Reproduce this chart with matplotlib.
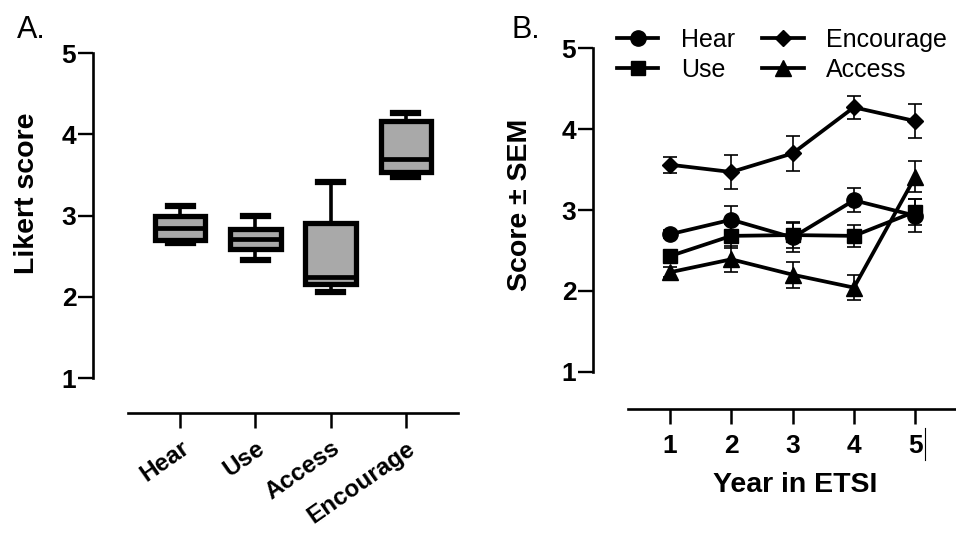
import matplotlib
matplotlib.use("Agg")
import matplotlib.pyplot as plt
from matplotlib.lines import Line2D

plt.rcParams['font.family'] = ['Liberation Sans', 'DejaVu Sans']

# panel A: box summaries
categories = ['Hear', 'Use', 'Access', 'Encourage']
box_whislo = [2.66, 2.45, 2.06, 3.48]
box_q1 = [2.70, 2.59, 2.16, 3.54]
box_med = [2.85, 2.71, 2.25, 3.70]
box_q3 = [3.00, 2.84, 2.91, 4.17]
box_whishi = [3.12, 3.00, 3.42, 4.27]

# panel B: mean score and SEM per year
years = [1, 2, 3, 4, 5]
hear_mean = [2.70, 2.88, 2.66, 3.12, 2.93]
hear_sem = [0.05, 0.17, 0.18, 0.15, 0.20]
use_mean = [2.43, 2.68, 2.69, 2.68, 2.98]
use_sem = [0.06, 0.15, 0.16, 0.14, 0.16]
enc_mean = [3.56, 3.47, 3.70, 4.27, 4.10]
enc_sem = [0.10, 0.21, 0.22, 0.14, 0.21]
acc_mean = [2.23, 2.39, 2.20, 2.04, 3.41]
acc_sem = [0.06, 0.16, 0.16, 0.15, 0.19]

W, H = 956, 538
fig = plt.figure(figsize=(W / 100, H / 100), dpi=100)
fig.patch.set_facecolor('white')


def px_axes(left, top, right, bottom):
    return fig.add_axes([left / W, 1 - bottom / H, (right - left) / W, (bottom - top) / H])


def style(ax, x_out, y_out):
    for s in ('top', 'right'):
        ax.spines[s].set_visible(False)
    ax.spines['left'].set_position(('outward', y_out))
    ax.spines['bottom'].set_position(('outward', x_out))
    ax.spines['left'].set_linewidth(1.9)
    ax.spines['bottom'].set_linewidth(1.9)
    ax.spines['left'].set_bounds(1, 5)
    ax.set_ylim(1, 5)
    ax.set_yticks([1, 2, 3, 4, 5])
    ax.tick_params(axis='y', length=10.5, width=1.7, labelsize=19, pad=1.5)
    ax.tick_params(axis='x', length=11, width=1.8)
    for t in ax.get_yticklabels():
        t.set_fontweight('bold')
    ax.patch.set_alpha(0)


# ---- panel A ----
axA = px_axes(128, 53.3, 458, 378)
stats = []
for i, c in enumerate(categories):
    stats.append(dict(label=c, whislo=box_whislo[i], q1=box_q1[i], med=box_med[i],
                      q3=box_q3[i], whishi=box_whishi[i]))
axA.bxp(stats, positions=[1, 2, 3, 4], widths=0.67, capwidths=0.33,
        patch_artist=True, showfliers=False,
        boxprops=dict(facecolor='#a9a9a9', edgecolor='black', linewidth=3.8),
        medianprops=dict(color='black', linewidth=3.4),
        whiskerprops=dict(color='black', linewidth=2.6),
        capprops=dict(color='black', linewidth=4.5))
axA.set_xlim(1 - 52 / 75, 4 + 52 / 75)
style(axA, 25.2, 25.2)
axA.set_xticks([1, 2, 3, 4])
axA.set_xticklabels(categories, rotation=35, ha='right', va='top',
                    rotation_mode='anchor', fontweight='bold', fontsize=17.5)
axA.tick_params(axis='x', pad=6)
axA.set_ylabel('Likert score', fontsize=20.5, fontweight='bold', va='center')
axA.yaxis.set_label_coords(-0.306, 0.57)

# ---- panel B ----
axB = px_axes(628, 48.3, 956, 371.7)
series = [
    ('Hear', hear_mean, hear_sem, 'o', 11),
    ('Use', use_mean, use_sem, 's', 10.5),
    ('Encourage', enc_mean, enc_sem, 'D', 8),
    ('Access', acc_mean, acc_sem, '^', 11),
]
handles = []
for name, m, e, mk, ms in series:
    axB.errorbar(years, m, yerr=e, fmt='none', ecolor='black', elinewidth=1.2,
                 capsize=5, capthick=1.2, zorder=2)
    ln, = axB.plot(years, m, color='black', lw=2.7, marker=mk, markersize=ms,
                   markerfacecolor='black', markeredgecolor='black', label=name, zorder=3)
    handles.append(ln)
axB.set_xlim(1 - 42 / 61.3, 1 + (956 - 670) / 61.3)
style(axB, 27, 25.2)
axB.set_xticks(years)
axB.tick_params(axis='x', labelsize=19, pad=7)
for t in axB.get_xticklabels():
    t.set_fontweight('bold')
axB.set_xlabel('Year in ETSI', fontsize=20.5, fontweight='bold')
axB.xaxis.set_label_coords(0.509, -0.31)
axB.set_ylabel('Score \u00b1 SEM', fontsize=20.5, fontweight='bold', va='center')
axB.yaxis.set_label_coords(-0.329, 0.515)

fig.legend(handles=handles, ncol=2, loc='upper left',
           bbox_to_anchor=(617 / W, 1 - 28 / H), frameon=False, fontsize=18,
           handlelength=1.65, handletextpad=0.9, columnspacing=1.1,
           labelspacing=0.25, borderpad=0, borderaxespad=0)

# stray cursor mark next to the last year label
fig.add_artist(Line2D([925 / W, 925 / W], [1 - 428 / H, 1 - 460 / H], color='black', lw=0.8))

fig.text(17 / W, 1 - 38 / H, 'A.', fontsize=22, va='baseline')
fig.text(511 / W, 1 - 38 / H, 'B.', fontsize=22, va='baseline')

fig.savefig('out.png', dpi=100, facecolor='white')
